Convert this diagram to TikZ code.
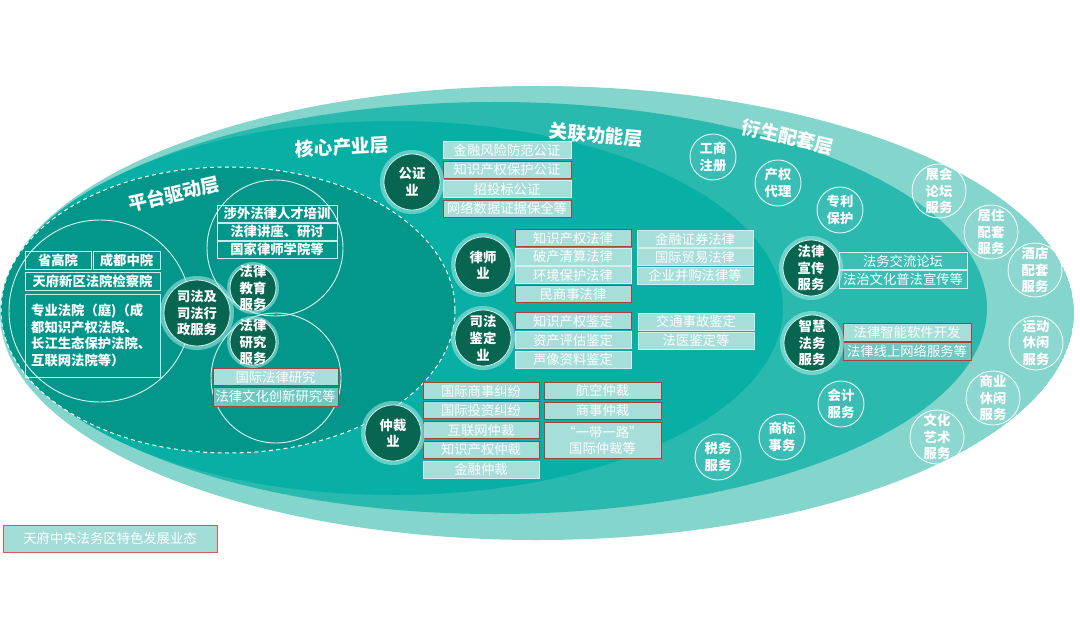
\documentclass[tikz,border=0pt]{standalone}
\usepackage{fontspec}
\setmainfont{Noto Sans CJK SC}
\definecolor{outerc}{HTML}{84D5CC}
\definecolor{midc}{HTML}{2AB9AF}
\definecolor{corec}{HTML}{07AFA4}
\definecolor{platc}{HTML}{03978B}
\definecolor{darkc}{HTML}{08654F}
\definecolor{boxfill}{HTML}{A6DED9}
\definecolor{boxsemi}{HTML}{6CC8C0}
\definecolor{boxline}{HTML}{D3F0ED}
\definecolor{boxred}{HTML}{A5443F}
\definecolor{legred}{HTML}{D05A55}
\definecolor{haloc}{HTML}{A8EBE4}
\newcommand\mkdark[5]{%
  \coordinate (#1c) at (#2);
  \fill[haloc, opacity=0.55] (#1c) circle [radius=#3];
  \node[dk, minimum size=#4] (#1) at (#1c) {};
  \node[ctext] (#1t) at (#1) {#5};
}
\newcommand\mklight[4]{%
  \node[lc, minimum size=#3] (#1) at (#2) {};
  \node[ctext] (#1t) at (#1) {#4};
}
\begin{document}
\begin{tikzpicture}[x=0.75pt,y=-0.75pt,
  dk/.style={circle, fill=darkc, draw=boxline, line width=0.6pt, inner sep=0},
  lc/.style={circle, draw=white, draw opacity=0.85, line width=0.7pt, fill=white, fill opacity=0.07, inner sep=0},
  ctext/.style={text=white, font=\bfseries\fontsize{10}{12.5}\selectfont, align=center, inner sep=0},
  cb/.style={rectangle, fill=boxfill, draw=boxline, line width=0.6pt, text=white, font=\fontsize{10}{12}\selectfont, inner sep=0, minimum height=12.75pt, align=center},
  cr/.style={cb, draw=boxred},
  crs/.style={cr, fill=boxsemi},
  ob/.style={cb, fill=midc!92!white},
  pb/.style={rectangle, draw=white, draw opacity=0.8, line width=0.6pt, text=white, font=\bfseries\fontsize{10}{12.5}\selectfont, inner sep=0, minimum height=12.75pt},
  pcirc/.style={draw=white, draw opacity=0.85, line width=0.7pt},
  lay/.style={text=white, font=\bfseries\fontsize{14}{16}\selectfont, inner sep=0}
]
\useasboundingbox (0,0) rectangle (1080,627);
% layers
\begin{scope}
\clip (537,313) ellipse [x radius=537, y radius=227];
\fill[outerc] (537,313) ellipse [x radius=537, y radius=227];
\fill[midc] (495,308) ellipse [x radius=492, y radius=206];
\fill[corec] (393,308) ellipse [x radius=390, y radius=187];
\fill[platc] (228,310) ellipse [x radius=227, y radius=143];
\draw[white, dash pattern=on 3pt off 2.5pt, line width=0.75pt] (228,310) ellipse [x radius=227, y radius=143];
% platform sub-circles
\draw[pcirc] (100,311) circle [radius=91];
\draw[pcirc] (275,248) circle [radius=68];
\draw[pcirc] (276,378) circle [radius=65];
\end{scope}

% layer labels
\node[lay, rotate=13] (L1) at (174,194) {平台驱动层};
\node[lay, rotate=3] (L2) at (342,147) {核心产业层};
\node[lay, rotate=-5] (L3) at (596,135) {关联功能层};
\node[lay, rotate=-13] (L4) at (788,137) {衍生配套层};

% platform boxes
\node[pb, minimum width=49.5pt, minimum height=13.5pt] (p1) at (58,260) {省高院};
\node[pb, minimum width=50.25pt, minimum height=13.5pt] (p2) at (126.5,260) {成都中院};
\node[pb, minimum width=101.25pt, minimum height=13.5pt] (p3) at (92.5,281) {天府新区法院检察院};
\node[pb, minimum width=101.25pt, minimum height=62.25pt, text width=92pt, align=left] (p4) at (92.5,335.5) {专业法院（庭)（成\\都知识产权法院、\\长江生态保护法院、\\互联网法院等）};
\node[pb, minimum width=90pt] (e1) at (277,213.5) {涉外法律人才培训};
\node[pb, minimum width=90pt] (e2) at (277,231.5) {法律讲座、研讨};
\node[pb, minimum width=90pt] (e3) at (277,249.5) {国家律师学院等};
\node[cr, minimum width=93.75pt] (r1) at (275.5,377) {国际法律研究};
\node[crs, minimum width=93.75pt, minimum height=14.25pt] (r2) at (275.5,396.5) {法律文化创新研究等};

% core boxes
\node[cb, minimum width=96pt] (g1) at (507,150) {金融风险防范公证};
\node[cr, minimum width=96pt] (g2) at (507,169.5) {知识产权保护公证};
\node[cb, minimum width=96pt] (g3) at (507,189) {招投标公证};
\node[cr, minimum width=96pt] (g4) at (507,208.5) {网络数据证据保全等};

\node[cr, minimum width=87pt] (l1) at (573,238) {知识产权法律};
\node[cb, minimum width=87pt] (l2) at (573,256.5) {破产清算法律};
\node[cb, minimum width=87pt] (l3) at (573,275) {环境保护法律};
\node[cr, minimum width=87pt] (l4) at (573,294) {民商事法律};
\node[cb, minimum width=87pt] (l5) at (695,239) {金融证券法律};
\node[cb, minimum width=87pt] (l6) at (695,257) {国际贸易法律};
\node[cb, minimum width=87pt] (l7) at (695,275.5) {企业并购法律等};

\node[cr, minimum width=87pt] (j1) at (573,321) {知识产权鉴定};
\node[cb, minimum width=87pt] (j2) at (573,340) {资产评估鉴定};
\node[cb, minimum width=87pt] (j3) at (573,359.5) {声像资料鉴定};
\node[cb, minimum width=87pt] (j4) at (696,321.5) {交通事故鉴定};
\node[cb, minimum width=87pt] (j5) at (696,340.5) {法医鉴定等};

\node[cr, minimum width=87pt] (z1) at (481,391) {国际商事纠纷};
\node[cr, minimum width=87pt] (z2) at (481,410) {国际投资纠纷};
\node[cr, minimum width=87pt] (z3) at (481,430) {互联网仲裁};
\node[cr, minimum width=87pt] (z4) at (481,449.5) {知识产权仲裁};
\node[cb, minimum width=87pt] (z5) at (481,469.5) {金融仲裁};
\node[cr, minimum width=87.75pt] (z6) at (602.5,390.5) {航空仲裁};
\node[cr, minimum width=87.75pt] (z7) at (602.5,410.5) {商事仲裁};
\node[cr, minimum width=87.75pt, minimum height=27pt] (z8) at (602.5,440) {“一带一路”\\国际仲裁等};

% right boxes
\node[ob, minimum width=96pt] (x1) at (903,261) {法务交流论坛};
\node[ob, minimum width=96pt, minimum height=13.5pt] (x2) at (903,279) {法治文化普法宣传等};
\node[cr, minimum width=96pt, minimum height=13.5pt] (h1) at (907,332) {法律智能软件开发};
\node[crs, minimum width=96pt, minimum height=13.5pt] (h2) at (907,351) {法律线上网络服务等};

% light circles, middle band
\mklight{gs}{713,157}{34.5pt}{工商\\注册}
\mklight{cq}{778,183}{34.5pt}{产权\\代理}
\mklight{zl}{840,210}{34.5pt}{专利\\保护}
\mklight{kj}{841,404}{34.5pt}{会计\\服务}
\mklight{sb}{782,437}{34.5pt}{商标\\事务}
\mklight{sw}{718,457}{34.5pt}{税务\\服务}
% light circles, outer band
\mklight{zh1}{939,191}{40.5pt}{展会\\论坛\\服务}
\mklight{jz}{991,232}{40.5pt}{居住\\配套\\服务}
\mklight{jd1}{1035,270}{40.5pt}{酒店\\配套\\服务}
\mklight{yd}{1036,343}{40.5pt}{运动\\休闲\\服务}
\mklight{sy}{993,398}{40.5pt}{商业\\休闲\\服务}
\mklight{wh}{937,437}{40.5pt}{文化\\艺术\\服务}

% dark circles
\mkdark{sf}{197,313}{37}{49.5pt}{司法及\\司法行\\政服务}
\mkdark{jy}{253,288}{26}{34.5pt}{法律\\教育\\服务}
\mkdark{yj}{253,342}{26}{34.5pt}{法律\\研究\\服务}
\mkdark{gz}{412,182}{32}{42pt}{公证\\业}
\mkdark{ls}{483,265}{32}{42pt}{律师\\业}
\mkdark{sj}{483,338}{32}{42pt}{司法\\鉴定\\业}
\mkdark{zc}{393,433}{32}{42pt}{仲裁\\业}
\mkdark{xc}{811,268}{32}{42pt}{法律\\宣传\\服务}
\mkdark{zf}{812,343}{32}{42pt}{智慧\\法务\\服务}

% legend
\node[rectangle, fill=boxfill!92!outerc, draw=legred, line width=0.75pt, text=white, font=\fontsize{10}{12}\selectfont, minimum width=160.5pt, minimum height=20.25pt, inner sep=0] (leg) at (110,538.5) {天府中央法务区特色发展业态};
\end{tikzpicture}
\end{document}
